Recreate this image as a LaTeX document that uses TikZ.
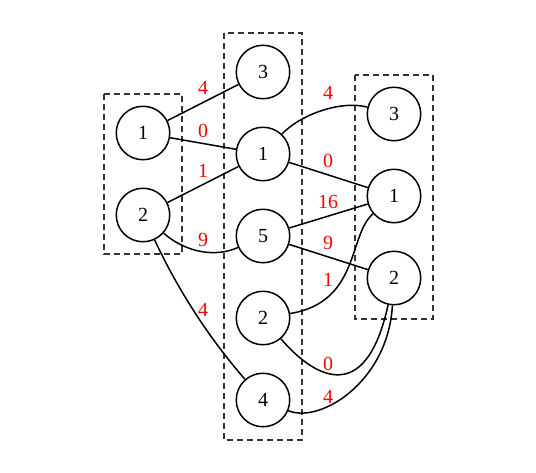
\documentclass[tikz,border=0pt]{standalone}
\usepackage{fontspec}
\setmainfont{Liberation Serif}
\begin{document}
\begin{tikzpicture}[x=1pt,y=-1pt,
  vert/.style={circle,draw=black,line width=1.5pt,minimum size=53.5pt,inner sep=0pt,font=\fontsize{20}{23}\selectfont},
  grp/.style={draw=black!80,dash pattern=on 6pt off 4pt,line width=1.6pt},
  edge/.style={line width=1.5pt},
  wt/.style={text=red,font=\fontsize{20}{23}\selectfont,inner sep=0pt}]
\useasboundingbox (0,0) rectangle (536,472);
% groups
\draw[grp] (104,94) rectangle (182,254);
\draw[grp] (224,33) rectangle (302,440);
\draw[grp] (355,75) rectangle (433,319);
% nodes
\node[vert] (l1) at (143,133) {1};
\node[vert] (l2) at (143,215) {2};
\node[vert] (m3) at (263,72) {3};
\node[vert] (m1) at (263,154) {1};
\node[vert] (m5) at (263,236) {5};
\node[vert] (m2) at (263,318) {2};
\node[vert] (m4) at (263,400) {4};
\node[vert] (r3) at (394,114) {3};
\node[vert] (r1) at (394,196) {1};
\node[vert] (r2) at (394,278) {2};
% edges
\draw[edge] (l1) -- (m3);
\draw[edge] (l1) -- (m1);
\draw[edge] (l2) -- (m1);
\draw[edge] (l2) .. controls (185,252) and (215,258) .. (m5);
\draw[edge] (l2) .. controls (178,290) and (209,338) .. (m4);
\draw[edge] (m1) .. controls (300,115) and (340,100) .. (r3);
\draw[edge] (m1) -- (r1);
\draw[edge] (m5) -- (r1);
\draw[edge] (m5) -- (r2);
\draw[edge] (m2) .. controls (360,302) and (348,235) .. (r1);
\draw[edge] (m2) .. controls (312,375) and (365,410) .. (r2);
\draw[edge] (m4) .. controls (320,424) and (388,382) .. (r2);
% weights
\node[wt] (w1) at (203,88) {4};
\node[wt] (w2) at (203,131) {0};
\node[wt] (w3) at (203,171) {1};
\node[wt] (w4) at (203,240) {9};
\node[wt] (w5) at (203,310) {4};
\node[wt] (w6) at (328,93) {4};
\node[wt] (w7) at (328,161) {0};
\node[wt] (w8) at (328,202) {16};
\node[wt] (w9) at (328,243) {9};
\node[wt] (w10) at (328,280) {1};
\node[wt] (w11) at (328,364) {0};
\node[wt] (w12) at (328,397) {4};
\end{tikzpicture}
\end{document}
